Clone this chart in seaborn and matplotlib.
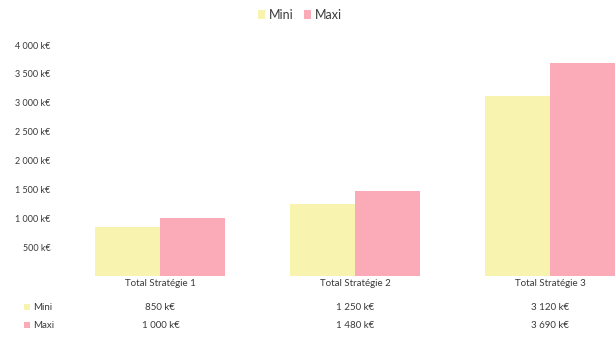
import matplotlib
matplotlib.use("Agg")
import matplotlib.pyplot as plt
import matplotlib.transforms as mtransforms
from matplotlib.patches import Rectangle
import seaborn as sns
import pandas as pd

categories = ["Total Stratégie 1", "Total Stratégie 2", "Total Stratégie 3"]
series_names = ["Mini", "Maxi"]
mini_values = [850, 1250, 3120]
maxi_values = [1000, 1480, 3690]
y_ticks = [500, 1000, 1500, 2000, 2500, 3000, 3500, 4000]

colors = {"Mini": "#F8F3AE", "Maxi": "#FBAAB7"}
text_color = "#3a3a3a"

sns.set_theme(style="white")
plt.rcParams["font.family"] = ["Lato", "DejaVu Sans"]

def fmt(v):
    return f"{v:,}".replace(",", " ") + " k€"

df = pd.DataFrame({
    "cat": categories * 2,
    "serie": ["Mini"] * 3 + ["Maxi"] * 3,
    "val": mini_values + maxi_values,
})

W, H = 615, 340
fig = plt.figure(figsize=(W / 100, H / 100), dpi=100)
y0_px = 276
k = (276 - 63) / 3690.0
ymax = 4200
top_px = y0_px - ymax * k
left_px = 63
ax = fig.add_axes([left_px / W, (H - y0_px) / H, (W - left_px) / W, (y0_px - top_px) / H])

sns.barplot(data=df, x="cat", y="val", hue="serie", hue_order=series_names,
            palette=colors, width=0.667, saturation=1, ax=ax, legend=False,
            edgecolor="none", linewidth=0)

ax.set_ylim(0, ymax)
ax.set_xlim(-0.5, (W - 160) / 195.0)
ax.set_yticks(y_ticks)
ax.set_yticklabels([fmt(v) for v in y_ticks], fontsize=6.5, color=text_color)
ax.tick_params(axis="y", length=0, pad=9)
ax.set_xticks(range(len(categories)))
ax.set_xticklabels(categories, fontsize=7, color=text_color)
ax.tick_params(axis="x", length=0, pad=2)
ax.set_xlabel("")
ax.set_ylabel("")
for s in ax.spines.values():
    s.set_visible(False)
ax.grid(False)

tr = mtransforms.blended_transform_factory(ax.transData, fig.transFigure)
rows = [("Mini", mini_values, 307), ("Maxi", maxi_values, 325)]
for name, vals, ypx in rows:
    yf = (H - ypx) / H
    for i, v in enumerate(vals):
        ax.text(i, yf, fmt(v), transform=tr, ha="center", va="center",
                fontsize=7, color=text_color, clip_on=False)
    fig.text(33 / W, yf, name, ha="left", va="center", fontsize=7, color=text_color)
    fig.patches.append(Rectangle((24 / W, yf - 3 / H), 6 / W, 6 / H,
                                 transform=fig.transFigure, facecolor=colors[name],
                                 edgecolor="none"))

# legend at top
handles = [Rectangle((0, 0), 1, 1, facecolor=colors[n], edgecolor="none") for n in series_names]
fig.legend(handles, series_names, loc="center", bbox_to_anchor=(300 / W, (H - 15) / H),
           ncol=2, frameon=False, fontsize=9, handlelength=0.6, handleheight=0.8,
           handletextpad=0.3, columnspacing=0.8, labelcolor=text_color)

fig.savefig("out.png", dpi=100, facecolor="white")
